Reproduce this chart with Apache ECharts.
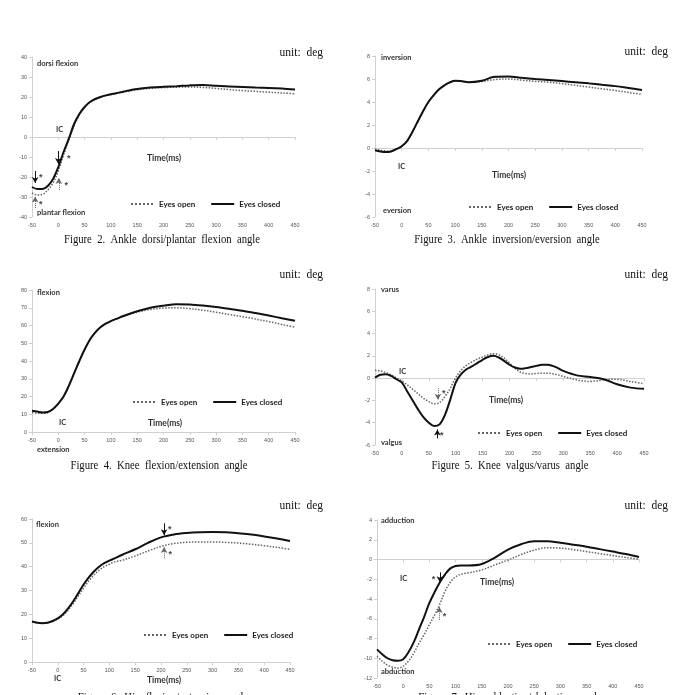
<!DOCTYPE html>
<html>
<head>
<meta charset="utf-8">
<script src="https://cdn.jsdelivr.net/npm/echarts@6/dist/echarts.min.js"></script>
<style>
  html, body { margin: 0; padding: 0; background: #fff; }
  #chart { width: 673px; height: 695px; }
</style>
</head>
<body>
<div id="chart"></div>
<script>
  // time axis (ms), shared by most panels
  const timeMs = [-50, -40, -30, -20, -10, 0, 10, 20, 30, 40, 50, 60, 70, 80, 90, 100, 110, 125,
    150, 175, 200, 225, 250, 275, 300, 325, 350, 375, 400, 425, 450]
  // finer sampling for the knee valgus/varus panel
  const timeMsFine = [-50, -40, -30, -20, -10, 0, 10, 20, 30, 40, 50, 60, 70, 80, 90, 100,
    110, 120, 130, 140, 150, 160, 170, 180, 190, 200, 210, 220, 230, 240, 250, 260, 270, 280, 290, 300,
    325, 350, 375, 400, 425, 450]

  // Figure 2 ankle dorsi/plantar flexion
  const ankleDfOpen = [-28, -29, -28.7, -26.5, -23, -17, -9, -1.5, 5.5, 11, 14.8, 17.3, 18.8, 19.8, 20.6, 21.2,
    21.7, 22.5, 23.6, 24.3, 24.7, 24.9, 25, 24.8, 24.3, 23.7, 23.2, 22.8, 22.4, 22, 21.6]
  const ankleDfClosed = [-25, -26, -26, -24.5, -21, -15, -7.5, -0.8, 6.5, 11.5, 15, 17.5, 19, 20, 20.8, 21.4,
    21.9, 22.8, 24, 24.7, 25.1, 25.4, 25.8, 26, 25.6, 25.2, 25, 24.7, 24.5, 24.2, 23.8]
  const ankleDfArrowsOpen = [[-44, -35.5, -29.8], [1, -26.5, -20.5]]
  const ankleDfArrowsClosed = [[-44, -17, -23], [0, -7, -13.5]]
  const ankleDfStars = [[-33.5, -19], [-33.5, -32.7], [20, -9.7], [15, -23]]

  // Figure 3 ankle inversion/eversion
  const ankleInvOpen = [-0.1, -0.2, -0.25, -0.25, -0.05, 0.15, 0.6, 1.4, 2.3, 3.2, 4.0, 4.6, 5.1, 5.45, 5.7, 5.85,
    5.82, 5.72, 5.78, 5.95, 6.0, 5.9, 5.8, 5.72, 5.6, 5.45, 5.3, 5.15, 5.0, 4.83, 4.65]
  const ankleInvClosed = [-0.2, -0.3, -0.35, -0.3, -0.1, 0.15, 0.6, 1.4, 2.3, 3.2, 4.0, 4.6, 5.1, 5.45, 5.7, 5.85,
    5.82, 5.72, 5.85, 6.2, 6.22, 6.1, 6.0, 5.92, 5.82, 5.72, 5.62, 5.5, 5.38, 5.22, 5.05]

  // Figure 4 knee flexion/extension
  const kneeFlexOpen = [11, 10.5, 10.5, 11, 12.7, 16, 20, 26, 33, 40, 46.5, 52, 56, 59, 61, 62.5,
    63.6, 65.3, 67.5, 69, 69.8, 70, 69.5, 68.6, 67.5, 66.2, 65, 63.6, 62.2, 60.6, 59]
  const kneeFlexClosed = [12, 11.5, 11, 11.3, 13, 16, 20, 26, 33, 40, 46.5, 52, 56, 59, 61, 62.5,
    63.7, 65.5, 68, 70, 71.2, 72, 71.8, 71.2, 70.4, 69.4, 68.3, 67, 65.6, 64.1, 62.7]

  // Figure 5 knee valgus/varus
  const kneeVarusOpen = [0.7, 0.65, 0.5, 0.3, 0.0, -0.25, -0.6, -1.0, -1.4, -1.8, -2.1, -2.3, -2.2, -1.65, -0.9, 0.05,
    0.7, 1.15, 1.45, 1.7, 1.9, 2.1, 2.2, 2.1, 1.8, 1.35, 0.9, 0.55, 0.42, 0.38, 0.42, 0.45, 0.45, 0.4, 0.3, 0.15,
    -0.15, -0.3, -0.15, -0.1, -0.3, -0.5]
  const kneeVarusClosed = [0.05, 0.3, 0.35, 0.2, -0.1, -0.4, -1.2, -2.0, -2.8, -3.5, -4.0, -4.3, -4.15, -3.3, -1.9, -0.4,
    0.35, 0.8, 1.05, 1.35, 1.65, 1.9, 2.0, 1.85, 1.55, 1.2, 0.95, 0.85, 0.9, 1.0, 1.1, 1.2, 1.2, 1.1, 0.9, 0.65,
    0.25, 0.1, -0.1, -0.55, -0.85, -0.95]
  const kneeVarusArrowsOpen = [[67, -0.9, -1.95]]
  const kneeVarusArrowsClosed = [[66, -5.4, -4.6]]
  const kneeVarusStars = [[78, -1.2], [74, -4.9]]

  // Figure 6 hip flexion/extension
  const hipFlexOpen = [17, 16.5, 16.3, 16.5, 17, 18, 19.5, 21.8, 24.5, 27.8, 31, 34, 36.5, 38.5, 40, 41,
    42, 42.7, 44.5, 46.6, 48.5, 49.7, 50.2, 50.4, 50.4, 50.2, 49.9, 49.4, 48.8, 48.1, 47.3]
  const hipFlexClosed = [17, 16.5, 16.3, 16.5, 17.2, 18.3, 20, 22.5, 25.5, 29, 32.5, 35.5, 38, 40, 41.5, 42.5,
    43.5, 45, 47.3, 50, 52.3, 53.5, 54.1, 54.4, 54.5, 54.4, 54.0, 53.5, 52.7, 51.8, 50.8]
  const hipFlexArrowsOpen = [[206, 43.5, 48.3]]
  const hipFlexArrowsClosed = [[206, 58.2, 53.2]]
  const hipFlexStars = [[217, 56.8], [218, 46.3]]

  // Figure 7 hip adduction/abduction
  const hipAddOpen = [-9.8, -10.3, -10.7, -10.9, -11.0, -10.8, -10.3, -9.5, -8.5, -7.6, -6.6, -5.6, -4.5, -3.2, -2.3, -1.75,
    -1.5, -1.35, -1.05, -0.55, -0.05, 0.5, 0.95, 1.2, 1.15, 1.0, 0.8, 0.6, 0.4, 0.2, 0.05]
  const hipAddClosed = [-9.1, -9.6, -10.0, -10.2, -10.25, -10.1, -9.4, -8.4, -7.1, -5.8, -4.4, -3.3, -2.3, -1.5, -0.9, -0.65,
    -0.6, -0.6, -0.45, 0.2, 1.0, 1.55, 1.85, 1.85, 1.7, 1.5, 1.3, 1.05, 0.8, 0.55, 0.25]
  const hipAddArrowsOpen = [[69, -6.1, -4.8]]
  const hipAddArrowsClosed = [[70, -1.3, -2.3]]
  const hipAddStars = [[58, -1.75], [79, -5.55]]

  const legendNames = ['Eyes open', 'Eyes closed']

  const panels = [
    { grid: { left: 32, top: 57, width: 263, height: 160 }, y: [-40, 40, 10], t: timeMs,
      open: ankleDfOpen, closed: ankleDfClosed, arrowsOpen: ankleDfArrowsOpen, arrowsClosed: ankleDfArrowsClosed,
      stars: ankleDfStars, legend: [130, 200] },
    { grid: { left: 375, top: 56, width: 267, height: 161 }, y: [-6, 8, 2], t: timeMs,
      open: ankleInvOpen, closed: ankleInvClosed, legend: [468, 203] },
    { grid: { left: 32, top: 290, width: 263, height: 142 }, y: [0, 80, 10], t: timeMs,
      open: kneeFlexOpen, closed: kneeFlexClosed, legend: [132, 398] },
    { grid: { left: 375, top: 289, width: 269, height: 156 }, y: [-6, 8, 2], t: timeMsFine,
      open: kneeVarusOpen, closed: kneeVarusClosed, arrowsOpen: kneeVarusArrowsOpen, arrowsClosed: kneeVarusArrowsClosed,
      stars: kneeVarusStars, legend: [477, 429] },
    { grid: { left: 32, top: 519, width: 258, height: 143 }, y: [0, 60, 10], t: timeMs,
      open: hipFlexOpen, closed: hipFlexClosed, arrowsOpen: hipFlexArrowsOpen, arrowsClosed: hipFlexArrowsClosed,
      stars: hipFlexStars, legend: [143, 631] },
    { grid: { left: 377, top: 520, width: 262, height: 158 }, y: [-12, 4, 2], t: timeMs,
      open: hipAddOpen, closed: hipAddClosed, arrowsOpen: hipAddArrowsOpen, arrowsClosed: hipAddArrowsClosed,
      stars: hipAddStars, legend: [487, 640] }
  ]

  const openColor = '#666'
  const closedColor = '#111'
  const axisGray = '#d0d0d0'

  function arrowMark (arrows, closed) {
    if (!arrows) return undefined
    return {
      silent: true,
      symbol: ['none', 'arrow'],
      symbolSize: [5, 6],
      label: { show: false },
      emphasis: { disabled: true },
      lineStyle: { color: closed ? closedColor : openColor, width: 1, type: closed ? 'solid' : 'dotted' },
      data: arrows.map(a => [{ coord: [a[0], a[1]] }, { coord: [a[0], a[2]] }])
    }
  }

  const grids = []
  const xAxes = []
  const yAxes = []
  const series = []
  const legends = []

  panels.forEach((p, i) => {
    grids.push(p.grid)
    xAxes.push({
      gridIndex: i, type: 'value', min: -50, max: 450, interval: 50,
      axisLine: { lineStyle: { color: axisGray, width: 1 } },
      axisTick: { show: true, length: 3, lineStyle: { color: axisGray } },
      axisLabel: { fontSize: 5.5, color: '#555', margin: 5, fontFamily: 'Liberation Sans' },
      splitLine: { show: false }
    })
    yAxes.push({
      gridIndex: i, type: 'value', min: p.y[0], max: p.y[1], interval: p.y[2],
      axisLine: { show: true, onZero: false, lineStyle: { color: axisGray, width: 1 } },
      axisTick: { show: true, length: 3, lineStyle: { color: axisGray } },
      axisLabel: { fontSize: 5.5, color: '#555', margin: 5, fontFamily: 'Liberation Sans' },
      splitLine: { show: false }
    })
    series.push({
      name: 'Eyes open', type: 'line', xAxisIndex: i, yAxisIndex: i,
      data: p.t.map((t, k) => [t, p.open[k]]),
      symbol: 'none', smooth: 0.35, z: 2,
      lineStyle: { color: openColor, width: 1.5, type: 'dotted' },
      itemStyle: { color: openColor },
      markLine: arrowMark(p.arrowsOpen, false)
    })
    series.push({
      name: 'Eyes closed', type: 'line', xAxisIndex: i, yAxisIndex: i,
      data: p.t.map((t, k) => [t, p.closed[k]]),
      symbol: 'none', smooth: 0.35, z: 3,
      lineStyle: { color: closedColor, width: 2 },
      itemStyle: { color: closedColor },
      markLine: arrowMark(p.arrowsClosed, true)
    })
    if (p.stars) {
      series.push({
        type: 'scatter', xAxisIndex: i, yAxisIndex: i, silent: true, z: 4,
        data: p.stars, symbolSize: 1,
        itemStyle: { color: 'rgba(0,0,0,0)' },
        label: { show: true, formatter: '*', position: 'inside', offset: [0, 2.5],
          fontSize: 9, fontWeight: 'bold', color: '#111', fontFamily: 'Liberation Sans' }
      })
    }
    legends.push({
      left: p.legend[0], top: p.legend[1], padding: 0, itemWidth: 23, itemHeight: 8, itemGap: 15,
      data: legendNames, selectedMode: false,
      itemStyle: { opacity: 0 },
      textStyle: { fontFamily: 'Lato', fontWeight: 'bold', fontSize: 8, color: '#222' }
    })
  })

  function txt (x, y, text, o) {
    o = o || {}
    return {
      type: 'text', x: x, y: y, scaleX: o.scaleX || 1, silent: true,
      style: {
        text: text,
        fontFamily: o.font || 'Lato',
        fontSize: o.size || 7.5,
        fontWeight: o.weight || 'bold',
        fill: o.color || '#333',
        align: o.align || 'left',
        verticalAlign: 'middle'
      }
    }
  }
  const serif = { font: 'Liberation Serif', size: 12, weight: 'normal', color: '#111', scaleX: 0.89 }
  const unit = { font: 'Liberation Serif', size: 11.5, weight: 'normal', color: '#111', align: 'right' }
  const cap = Object.assign({ align: 'center' }, serif)
  const time = { size: 8.5, color: '#333' }

  const graphics = [
    txt(323, 53, 'unit:  deg', unit), txt(668, 52, 'unit:  deg', unit),
    txt(323, 275, 'unit:  deg', unit), txt(668, 275, 'unit:  deg', unit),
    txt(323, 506, 'unit:  deg', unit), txt(668, 506, 'unit:  deg', unit),
    txt(162, 240, 'Figure  2.  Ankle  dorsi/plantar  flexion  angle', cap),
    txt(507, 240, 'Figure  3.  Ankle  inversion/eversion  angle', cap),
    txt(159, 466, 'Figure  4.  Knee  flexion/extension  angle', cap),
    txt(510, 466, 'Figure  5.  Knee  valgus/varus  angle', cap),
    txt(163, 698, 'Figure  6.  Hip  flexion/extension  angle', cap),
    txt(510, 698, 'Figure  7.  Hip  adduction/abduction  angle', cap),
    txt(37, 64, 'dorsi flexion'), txt(37, 213, 'plantar flexion'),
    txt(56, 130, 'IC'), txt(147, 158, 'Time(ms)', time),
    txt(381, 58, 'inversion'), txt(383, 211, 'eversion'),
    txt(398, 167, 'IC'), txt(492, 175, 'Time(ms)', time),
    txt(37, 293, 'flexion'), txt(37, 450, 'extension'),
    txt(59, 423, 'IC'), txt(148, 423, 'Time(ms)', time),
    txt(381, 290, 'varus'), txt(381, 443, 'valgus'),
    txt(399, 372, 'IC'), txt(489, 400, 'Time(ms)', time),
    txt(36, 525, 'flexion'),
    txt(54, 679, 'IC'), txt(147, 680, 'Time(ms)', time),
    txt(381, 521, 'adduction'), txt(381, 672, 'abduction'),
    txt(400, 579, 'IC'), txt(480, 582, 'Time(ms)', time)
  ]

  const chart = echarts.init(document.getElementById('chart'))
  chart.setOption({
    animation: false,
    backgroundColor: '#fff',
    grid: grids,
    xAxis: xAxes,
    yAxis: yAxes,
    legend: legends,
    series: series,
    graphic: graphics
  })
</script>
</body>
</html>
